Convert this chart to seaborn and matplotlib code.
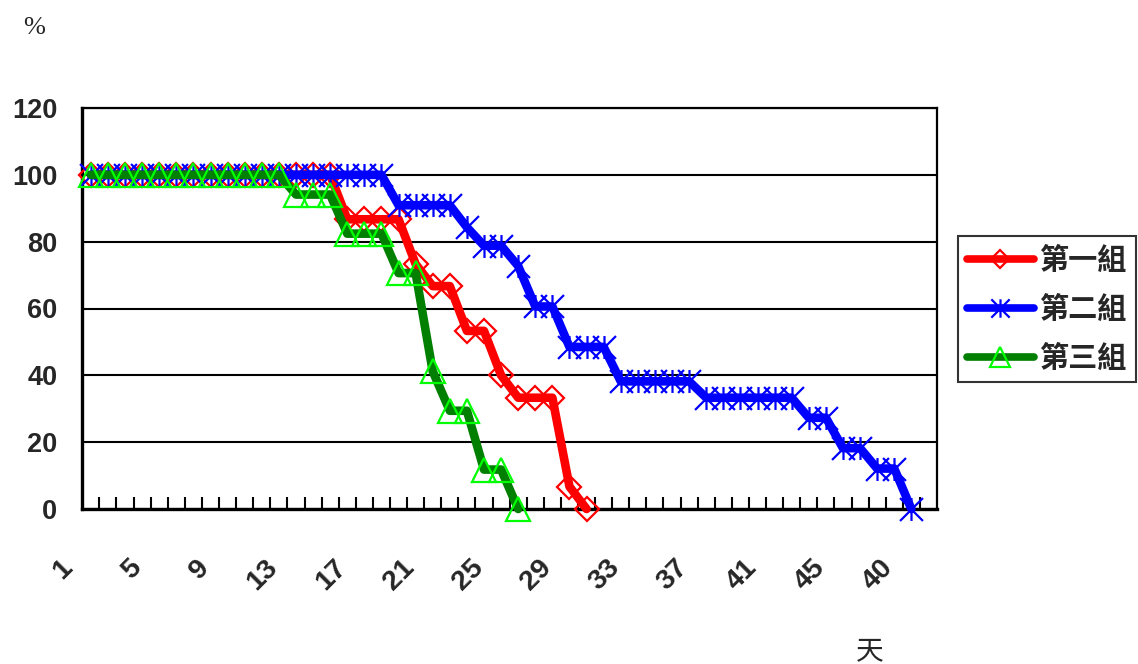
import matplotlib
matplotlib.use("Agg")
import matplotlib.pyplot as plt
from matplotlib.path import Path
from matplotlib.transforms import ScaledTranslation
from matplotlib.lines import Line2D
import numpy as np
import pandas as pd
import seaborn as sns

# ---------------- data ----------------
group_names = ["第一組", "第二組", "第三組"]

g1_days = list(range(1, 31))
g1_vals = [100, 100, 100, 100, 100, 100, 100, 100, 100, 100,
           100, 100, 100, 100, 100, 86.7, 86.7, 86.7, 86.7, 73.3,
           66.7, 66.7, 53.3, 53.3, 40, 33.3, 33.3, 33.3, 6.7, 0]

g2_days = list(range(1, 50))
g2_vals = [100, 100, 100, 100, 100, 100, 100, 100, 100, 100,
           100, 100, 100, 100, 100, 100, 100, 100, 90.9, 90.9,
           90.9, 90.9, 84.3, 78.8, 78.8, 72.7, 60.6, 60.6, 48.5, 48.5,
           48.5, 38.2, 38.2, 38.2, 38.2, 38.2, 33.3, 33.3, 33.3, 33.3,
           33.3, 33.3, 27.3, 27.3, 18.2, 18.2, 12.1, 12.1, 0]

g3_days = list(range(1, 27))
g3_vals = [100, 100, 100, 100, 100, 100, 100, 100, 100, 100,
           100, 100, 94.1, 94.1, 94.1, 82.4, 82.4, 82.4, 70.6, 70.6,
           41.2, 29.4, 29.4, 11.8, 11.8, 0]

xtick_pos = [1, 5, 9, 13, 17, 21, 25, 29, 33, 37, 41, 45, 49]
xtick_labels = ["1", "5", "9", "13", "17", "21", "25", "29", "33", "37", "41", "45", "40"]
ytick_vals = [0, 20, 40, 60, 80, 100, 120]
n_categories = 50

# ---------------- style ----------------
W, H = 1138, 664
fig = plt.figure(figsize=(W / 100, H / 100), dpi=100)
sns.set_style("white")
plt.rcParams["font.family"] = ["Liberation Sans", "DejaVu Sans"]

left, right, top, bottom = 82.3, 937.0, 108.0, 509.0
ax = fig.add_axes([left / W, 1 - bottom / H, (right - left) / W, (bottom - top) / H])

star = Path([(0, -1), (0, 1), (-1, -1), (1, 1), (-1, 1), (1, -1)],
            [Path.MOVETO, Path.LINETO] * 3)

series = [
    dict(days=g1_days, vals=g1_vals, name=group_names[0], color="#ff0000",
         mec="#ff0000", marker="D", ms=12, mew=1.6),
    dict(days=g2_days, vals=g2_vals, name=group_names[1], color="#0000ff",
         mec="#0000ff", marker=star, ms=16.5, mew=1.6),
    dict(days=g3_days, vals=g3_vals, name=group_names[2], color="#007f00",
         mec="#00ff00", marker="^", ms=17.5, mew=1.6),
]

for s in series:
    df = pd.DataFrame({"day": s["days"], "pct": s["vals"]})
    sns.lineplot(data=df, x="day", y="pct", ax=ax, color=s["color"],
                 linewidth=6.2, marker=s["marker"], markersize=s["ms"],
                 markeredgewidth=s["mew"], markeredgecolor=s["mec"],
                 markerfacecolor="none", label=s["name"], clip_on=False,
                 zorder=3, legend=False)

ax.set_xlim(0.5, n_categories + 0.5)
ax.set_ylim(0, 120)
ax.set_xlabel("")
ax.set_ylabel("")

# y axis
ax.set_yticks(ytick_vals)
ax.set_yticklabels([str(v) for v in ytick_vals], fontsize=19.5, fontweight="bold")
ax.tick_params(axis="y", length=0, pad=18)
ax.yaxis.grid(True, color="black", linewidth=1.5)
ax.xaxis.grid(False)
ax.set_axisbelow(True)

# x axis
ax.set_xticks(xtick_pos)
ax.set_xticks(np.arange(1.5, n_categories, 1.0), minor=True)
ax.set_xticklabels(xtick_labels, rotation=45, ha="right", va="center",
                   rotation_mode="anchor", fontsize=20.5, fontweight="bold")
ax.tick_params(axis="x", which="major", length=0, pad=39.6)
ax.tick_params(axis="x", which="minor", direction="in", length=8.5,
               width=1.5, color="black", bottom=True, top=False)
shift = ScaledTranslation(-22 / 100, 0, fig.dpi_scale_trans)
for lab in ax.get_xticklabels():
    lab.set_transform(lab.get_transform() + shift)

for side, lw in [("left", 2.4), ("bottom", 2.4), ("top", 1.6), ("right", 1.6)]:
    ax.spines[side].set_visible(True)
    ax.spines[side].set_color("black")
    ax.spines[side].set_linewidth(lw)

# legend
handles = [Line2D([], [], color=s["color"], linewidth=5.5, marker=s["marker"],
                  markersize=s["ms"] * 0.8, markeredgewidth=s["mew"],
                  markeredgecolor=s["mec"], markerfacecolor="none")
           for s in series]
leg = fig.legend(handles, group_names, loc="upper left",
                 bbox_to_anchor=(958 / W, 1 - 236 / H),
                 prop={"family": ["Noto Sans CJK TC", "DejaVu Sans"],
                       "size": 21, "weight": "bold"},
                 frameon=True, fancybox=False, shadow=False,
                 handlelength=2.3, handletextpad=0.2, labelspacing=0.66,
                 borderpad=0.3, borderaxespad=0)
leg.get_frame().set_edgecolor("black")
leg.get_frame().set_linewidth(1.5)

fig.text(34.5 / W, 1 - 28 / H, "%", family="Liberation Serif", fontsize=19,
         ha="center", va="center")
fig.text(870 / W, 1 - 651 / H, "天", family=["Noto Sans CJK TC", "DejaVu Sans"],
         fontsize=20, ha="center", va="center")

fig.savefig("out.png", dpi=100, facecolor="white")
